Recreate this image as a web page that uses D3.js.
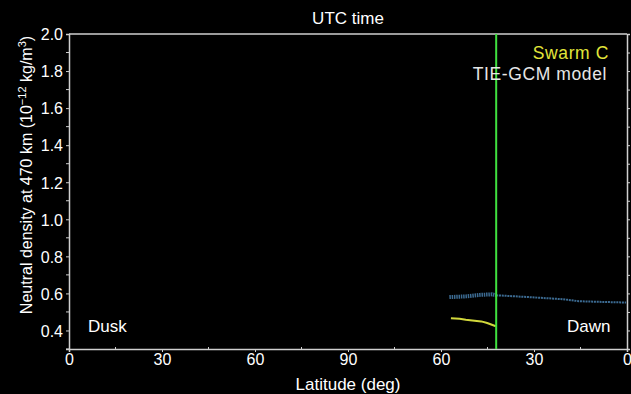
<!DOCTYPE html>
<html>
<head>
<meta charset="utf-8">
<script src="https://cdn.jsdelivr.net/npm/d3@7"></script>
<style>
  html, body { margin: 0; padding: 0; background: #000; }
  svg { display: block; font-family: "Liberation Sans", Arial, Helvetica, sans-serif; }
</style>
</head>
<body>
<svg id="chart" width="631" height="394"></svg>
<script>
// Orbit position runs dusk side (0 -> 90) then dawn side (90 -> 0): track coordinate 0..180
const trackTicks = [0, 30, 60, 90, 120, 150, 180];
const trackTickLabels = ["0", "30", "60", "90", "60", "30", "0"];
const densityTicks = [0.4, 0.6, 0.8, 1.0, 1.2, 1.4, 1.6, 1.8, 2.0];

// Dawn-side latitude (deg) and density (1e-12 kg/m^3)
const modelLatNear = [57.3, 52.0, 47.5, 43.5, 42.2];
const modelDenNear = [0.580, 0.584, 0.592, 0.595, 0.590];
const modelLatFar = [42.2, 31.6, 20.9, 15.5, 8.0, 0.3];
const modelDenFar = [0.590, 0.580, 0.569, 0.558, 0.554, 0.551];
const swarmLat = [56.8, 54.0, 52.0, 49.9, 47.0, 45.1, 42.3];
const swarmDen = [0.466, 0.463, 0.458, 0.454, 0.449, 0.440, 0.423];
const currentLat = 42.2;

const svg = d3.select("#chart");
const m = { left: 69, right: 627, top: 34, bottom: 349 };
const cx = (m.left + m.right) / 2;

const x = d3.scaleLinear().domain([0, 180]).range([m.left, m.right]);
const y = d3.scaleLinear().domain([0.3, 2.0]).range([m.bottom, m.top]);
const dawn = lat => x(180 - lat);

const axisColor = "#cfcfcf";

// Top frame line
svg.append("line").attr("x1", m.left).attr("x2", m.right).attr("y1", m.top).attr("y2", m.top)
  .attr("stroke", axisColor).attr("stroke-width", 1.5);

// Left axis
const yAxis = svg.append("g").attr("transform", `translate(${m.left},0)`)
  .call(d3.axisLeft(y).tickValues(densityTicks).tickFormat(d3.format(".1f")).tickSize(3).tickPadding(3));
yAxis.append("g").selectAll("line").data(d3.range(0.3, 2.0, 0.2)).join("line")
  .attr("x1", -3).attr("x2", 0).attr("y1", d => y(d)).attr("y2", d => y(d));

// Right axis
const yAxisR = svg.append("g").attr("transform", `translate(${m.right},0)`)
  .call(d3.axisRight(y).tickValues(d3.range(0.3, 2.0001, 0.1)).tickFormat("").tickSize(3));

// Bottom axis
const xAxis = svg.append("g").attr("transform", `translate(0,${m.bottom})`)
  .call(d3.axisBottom(x).tickValues(trackTicks).tickFormat((d, i) => trackTickLabels[i]).tickSize(3).tickPadding(2));
xAxis.append("g").selectAll("line").data([15, 45, 75, 105, 135, 165]).join("line")
  .attr("x1", d => x(d)).attr("x2", d => x(d)).attr("y1", 0).attr("y2", -2);

[yAxis, yAxisR, xAxis].forEach(g => {
  g.selectAll("path.domain").attr("stroke", axisColor).attr("stroke-width", 1.5);
  g.selectAll("line").attr("stroke", axisColor).attr("stroke-width", 1);
  g.selectAll("text").attr("fill", "#fff").attr("font-size", 16)
    .attr("font-family", "'Liberation Sans', Arial, sans-serif");
});
yAxis.selectAll("text").attr("dy", "0.36em");

// Model curve
const toPts = (lats, dens) => lats.map((l, i) => [dawn(l), y(dens[i])]);
const line = d3.line();
svg.append("path").attr("d", line(toPts(modelLatNear, modelDenNear)))
  .attr("fill", "none").attr("stroke", "#3c6b92").attr("stroke-width", 4)
  .attr("stroke-dasharray", "1.5,0.8");
svg.append("path").attr("d", line(toPts(modelLatFar, modelDenFar)))
  .attr("fill", "none").attr("stroke", "#3c6b92").attr("stroke-width", 2)
  .attr("stroke-dasharray", "2,0.8");

// Swarm C curve
svg.append("path").attr("d", line(toPts(swarmLat, swarmDen)))
  .attr("fill", "none").attr("stroke", "#d2d83c").attr("stroke-width", 2);

// Current position marker
svg.append("line").attr("x1", dawn(currentLat)).attr("x2", dawn(currentLat))
  .attr("y1", m.top).attr("y2", m.bottom)
  .attr("stroke", "#3fe03f").attr("stroke-width", 2);

// Texts
svg.append("text").attr("x", cx).attr("y", 23.5).attr("text-anchor", "middle")
  .attr("fill", "#fff").attr("font-size", 17).text("UTC time");
svg.append("text").attr("x", 609).attr("y", 59).attr("text-anchor", "end")
  .attr("fill", "#e2e63a").attr("font-size", 17.5).attr("letter-spacing", 0.6).text("Swarm C");
svg.append("text").attr("x", 607).attr("y", 80).attr("text-anchor", "end")
  .attr("fill", "#e6e6e6").attr("font-size", 17.5).attr("letter-spacing", 0.6).text("TIE-GCM model");
svg.append("text").attr("x", 88).attr("y", 331.5)
  .attr("fill", "#fff").attr("font-size", 17).text("Dusk");
svg.append("text").attr("x", 567).attr("y", 331.5)
  .attr("fill", "#fff").attr("font-size", 17).text("Dawn");
svg.append("text").attr("x", cx).attr("y", 390).attr("text-anchor", "middle")
  .attr("fill", "#fff").attr("font-size", 17).text("Latitude (deg)");

const yt = svg.append("text").attr("transform", "translate(32,175) rotate(-90)")
  .attr("text-anchor", "middle").attr("fill", "#fff").attr("font-size", 16);
yt.append("tspan").text("Neutral density at 470 km (10");
yt.append("tspan").attr("dy", -6).attr("font-size", 11).text("\u221212");
yt.append("tspan").attr("dy", 6).text(" kg/m");
yt.append("tspan").attr("dy", -6).attr("font-size", 11).text("3");
yt.append("tspan").attr("dy", 6).text(")");
</script>
</body>
</html>
